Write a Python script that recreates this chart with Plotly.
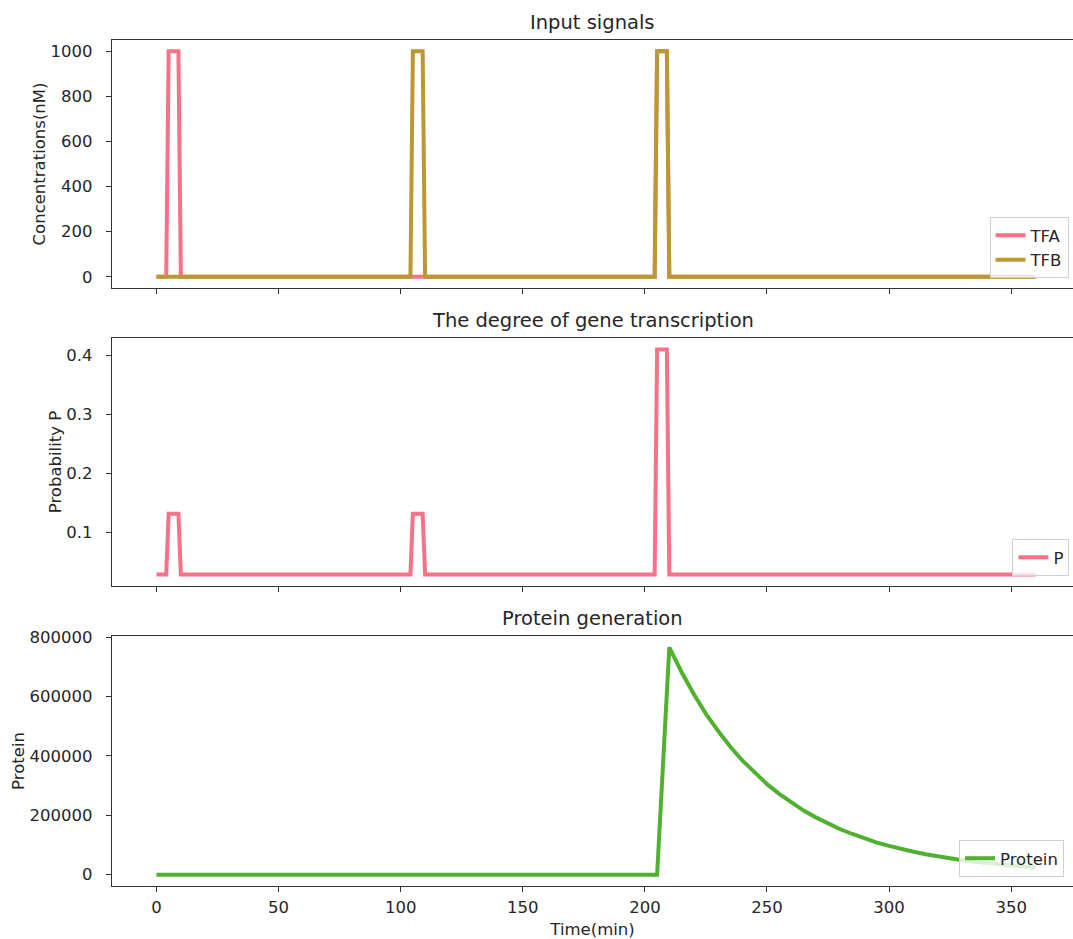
import plotly.graph_objects as go

# Time points (min) where the input signals change state
time_signal = [0, 4, 5, 9, 10, 104, 105, 109, 110, 204, 205, 209, 210, 360]
tfa = [0, 0, 1000, 1000, 0, 0, 0, 0, 0, 0, 1000, 1000, 0, 0]
tfb = [0, 0, 0, 0, 0, 0, 1000, 1000, 0, 0, 1000, 1000, 0, 0]
prob_p = [0.029, 0.029, 0.132, 0.132, 0.029, 0.029, 0.132, 0.132,
          0.029, 0.029, 0.41, 0.41, 0.029, 0.029]

# Protein level over time
time_protein = [0, 205, 210, 215, 220, 225, 230, 235, 240, 245, 250, 255, 260,
                265, 270, 275, 280, 285, 290, 295, 300, 305, 310, 315, 320,
                325, 330, 335, 340, 345, 350, 355, 360]
protein = [0, 0, 766000, 683000, 609000, 542000, 484000, 431000, 384000,
           343000, 305000, 272000, 243000, 216000, 193000, 172000, 153000,
           137000, 122000, 108000, 97000, 86000, 77000, 68500, 61000, 54500,
           48500, 43000, 38500, 34500, 30500, 27500, 24500]

PINK = "#f77189"
GOLD = "#bb9832"
GREEN = "#50b131"
FONT = "DejaVu Sans"
TEXT = "#262626"
LW = 4

fig = go.Figure()
fig.add_trace(go.Scatter(x=time_signal, y=tfa, mode="lines", name="TFA",
                         line=dict(color=PINK, width=LW), xaxis="x", yaxis="y",
                         legend="legend"))
fig.add_trace(go.Scatter(x=time_signal, y=tfb, mode="lines", name="TFB",
                         line=dict(color=GOLD, width=LW), xaxis="x", yaxis="y",
                         legend="legend"))
fig.add_trace(go.Scatter(x=time_signal, y=prob_p, mode="lines", name="P",
                         line=dict(color=PINK, width=LW), xaxis="x2", yaxis="y2",
                         legend="legend2"))
fig.add_trace(go.Scatter(x=time_protein, y=protein, mode="lines", name="Protein",
                         line=dict(color=GREEN, width=LW), xaxis="x3", yaxis="y3",
                         legend="legend3"))

W, H = 1073, 939


def ydom(top_px, bottom_px):
    return [1 - bottom_px / H, 1 - top_px / H]


x_range = [-18.2, 375.3]
tick_font = dict(family=FONT, size=16.5, color=TEXT)
axis_common = dict(showline=True, linecolor="#333333", linewidth=1.2,
                   ticks="outside", ticklen=5, tickwidth=1.2, tickcolor="#333333",
                   showgrid=False, zeroline=False, tickfont=tick_font)

x_common = dict(axis_common, range=x_range, mirror=True, ticklabelstandoff=1,
                tickvals=[0, 50, 100, 150, 200, 250, 300, 350])
y_common = dict(axis_common, ticklabelstandoff=10)

legend_common = dict(bgcolor="rgba(255,255,255,0.8)", bordercolor="#d0d0d0",
                     borderwidth=1, xanchor="right", yanchor="bottom",
                     font=dict(family=FONT, size=16.5, color=TEXT),
                     tracegroupgap=0, itemwidth=30)

fig.update_layout(
    width=W, height=H, template="none",
    plot_bgcolor="white", paper_bgcolor="white",
    margin=dict(l=112, r=0, t=0, b=0),
    font=dict(family=FONT, size=16.5, color=TEXT),
    xaxis=dict(x_common, domain=[0, 1], anchor="y", showticklabels=False),
    xaxis2=dict(x_common, domain=[0, 1], anchor="y2", matches="x", showticklabels=False),
    xaxis3=dict(x_common, domain=[0, 1], anchor="y3", matches="x",
                title=dict(text="Time(min)", font=tick_font, standoff=11)),
    yaxis=dict(y_common, domain=ydom(40, 288), range=[-50, 1050],
               tickvals=[0, 200, 400, 600, 800, 1000],
               title=dict(text="Concentrations(nM)", standoff=0, font=tick_font)),
    yaxis2=dict(y_common, domain=ydom(338, 586), range=[0.0095, 0.4295],
                tickvals=[0.1, 0.2, 0.3, 0.4], tickformat=".1f",
                title=dict(text="Probability P", standoff=0, font=tick_font)),
    yaxis3=dict(y_common, domain=ydom(636, 886), range=[-38300, 804300],
                tickvals=[0, 200000, 400000, 600000, 800000], tickformat="d",
                title=dict(text="Protein", standoff=0, font=tick_font)),
    legend=dict(legend_common, x=1068 / W, y=1 - 278 / H),
    legend2=dict(legend_common, x=1069 / W, y=1 - 576 / H),
    legend3=dict(legend_common, x=1063 / W, y=1 - 877 / H),
)

titles = [("Input signals", "y"), ("The degree of gene transcription", "y2"),
          ("Protein generation", "y3")]
for text, yref in titles:
    fig.add_annotation(text=text, x=0.5, xref="paper", y=1, yref=f"{yref} domain",
                       xanchor="center", yanchor="bottom", yshift=4, showarrow=False,
                       font=dict(family=FONT, size=19.5, color=TEXT))

fig.write_html("out.html")
